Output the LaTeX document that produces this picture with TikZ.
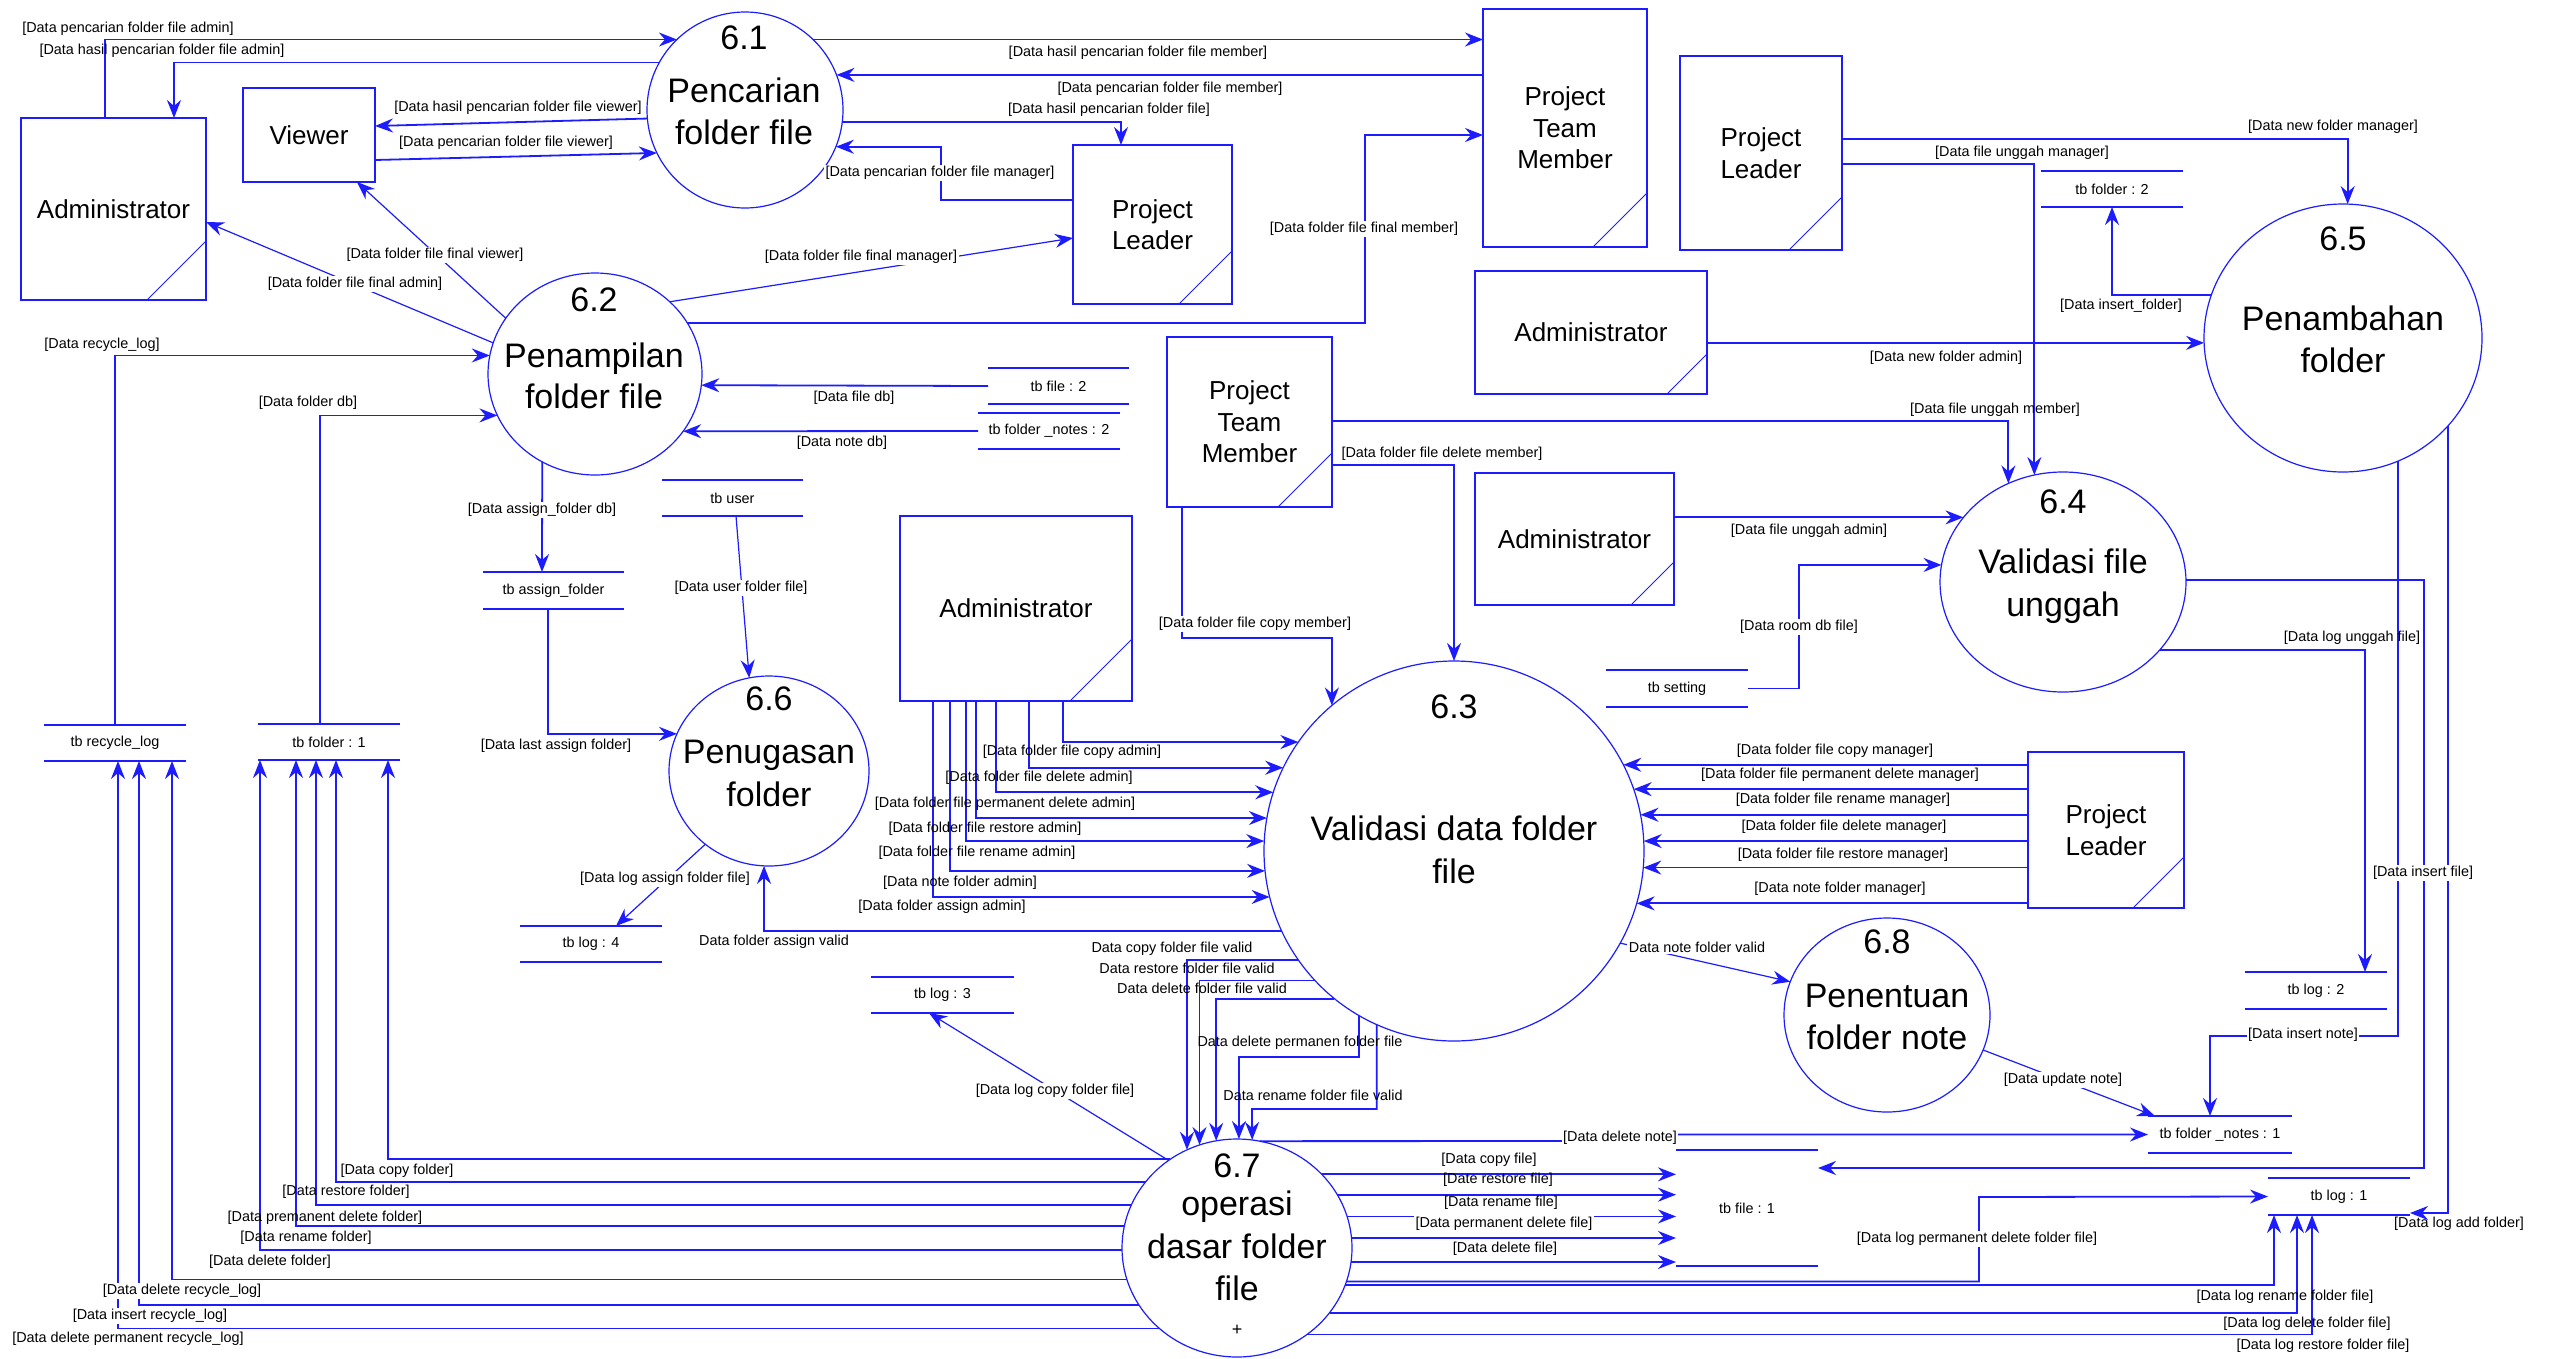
\documentclass[tikz,border=0pt]{standalone}
\usepackage{fontspec}
\setmainfont{Liberation Sans}
\usetikzlibrary{arrows.meta,shapes.geometric}
\definecolor{dfdblue}{RGB}{28,28,255}

\tikzset{
  flow/.style={draw=dfdblue, line width=1.8pt, ->},
  slant/.style={draw=dfdblue, line width=1.2pt, ->},
  proc/.style={ellipse, draw=dfdblue, line width=1.2pt, inner sep=0pt, outer sep=0pt},
  ptxt/.style={font=\fontsize{34}{40}\selectfont, anchor=base, inner sep=0pt},
  ent/.style={rectangle, draw=dfdblue, line width=1.8pt, inner sep=0pt, outer sep=0pt,
              align=center, font=\fontsize{26}{31.5}\selectfont},
  corner/.style={draw=dfdblue, line width=1pt},
  store/.style={inner sep=0pt, outer sep=0pt, font=\fontsize{14.4}{17}\selectfont},
  storeline/.style={draw=dfdblue, line width=1.8pt},
  lbl/.style={font=\fontsize{14.4}{17}\selectfont, inner sep=1.5pt},
  lblw/.style={lbl, fill=white},
}

% external entity with folded corner mark
\newcommand\dentity[6]{%
  \node[ent, minimum width=#3, minimum height=#4] (#1) at #2 {#6};
  \draw[corner] ([xshift=-#5]#1.south east) -- ([yshift=#5]#1.south east);
}
% data store: two horizontal rules around its name
\newcommand\dstore[5]{%
  \node[store, minimum width=#3, minimum height=#4] (#1) at #2 {#5};
  \draw[storeline] (#1.north west) -- (#1.north east) (#1.south west) -- (#1.south east);
}

\begin{document}
\begin{tikzpicture}[x=1pt, y=-1pt, >={Stealth[length=18pt,width=14pt,inset=6pt]}]
\fill[white] (0,0) rectangle (2552,1358);
\useasboundingbox (0,0) rectangle (2552,1358);

% ---------------- processes ----------------
\node[proc, minimum width=196pt, minimum height=196pt] (p61) at (745,110) {};
\node[ptxt] (p61n) at (744,49) {6.1};
\node[ptxt] (p61a) at (744,102) {Pencarian};
\node[ptxt] (p61b) at (744,144) {folder file};

\node[proc, minimum width=214pt, minimum height=202pt] (p62) at (595,374) {};
\node[ptxt] (p62n) at (594,311) {6.2};
\node[ptxt] (p62a) at (594,367) {Penampilan};
\node[ptxt] (p62b) at (594,408) {folder file};

\node[proc, minimum width=380pt, minimum height=380pt] (p63) at (1454,851) {};
\node[ptxt] (p63n) at (1454,718) {6.3};
\node[ptxt] (p63a) at (1454,840) {Validasi data folder};
\node[ptxt] (p63b) at (1454,883) {file};

\node[proc, minimum width=246pt, minimum height=220pt] (p64) at (2063,582) {};
\node[ptxt] (p64n) at (2063,513) {6.4};
\node[ptxt] (p64a) at (2063,573) {Validasi file};
\node[ptxt] (p64b) at (2063,616) {unggah};

\node[proc, minimum width=278pt, minimum height=268pt] (p65) at (2343,338) {};
\node[ptxt] (p65n) at (2343,250) {6.5};
\node[ptxt] (p65a) at (2343,330) {Penambahan};
\node[ptxt] (p65b) at (2343,372) {folder};

\node[proc, minimum width=200pt, minimum height=190pt] (p66) at (769,771) {};
\node[ptxt] (p66n) at (769,710) {6.6};
\node[ptxt] (p66a) at (769,763) {Penugasan};
\node[ptxt] (p66b) at (769,806) {folder};

\node[proc, minimum width=230pt, minimum height=218pt] (p67) at (1237,1248) {};
\node[ptxt] (p67n) at (1237,1177) {6.7};
\node[ptxt] (p67a) at (1237,1215) {operasi};
\node[ptxt] (p67b) at (1237,1258) {dasar folder};
\node[ptxt] (p67c) at (1237,1300) {file};
\node[font=\fontsize{18}{20}\selectfont, inner sep=0pt] (p67p) at (1237,1330) {+};

\node[proc, minimum width=206pt, minimum height=194pt] (p68) at (1887,1015) {};
\node[ptxt] (p68n) at (1887,953) {6.8};
\node[ptxt] (p68a) at (1887,1007) {Penentuan};
\node[ptxt] (p68b) at (1887,1049) {folder note};

% ---------------- external entities ----------------
\dentity{adm1}{(113.5,209)}{185pt}{182pt}{59pt}{Administrator}
\node[ent, minimum width=132pt, minimum height=94pt] (viewer) at (309,135) {Viewer};
\dentity{pl1}{(1152.5,224.5)}{159pt}{159pt}{53pt}{Project\\Leader}
\dentity{ptm1}{(1565,128)}{164pt}{238pt}{54pt}{Project\\Team\\Member}
\dentity{pl2}{(1761,153)}{162pt}{194pt}{53pt}{Project\\Leader}
\dentity{adm2}{(1591,332.5)}{232pt}{123pt}{40pt}{Administrator}
\dentity{ptm2}{(1249.5,422)}{165pt}{170pt}{54pt}{Project\\Team\\Member}
\dentity{adm3}{(1574.5,539)}{199pt}{132pt}{43pt}{Administrator}
\dentity{adm4}{(1016,608.5)}{232pt}{185pt}{62pt}{Administrator}
\dentity{pl3}{(2106,830)}{156pt}{156pt}{51pt}{Project\\Leader}

% ---------------- data stores ----------------
\dstore{tbf2}{(1058.5,386)}{141pt}{36pt}{tb file : 2}
\dstore{tbfn2}{(1049,431)}{142pt}{36pt}{tb folder \_notes : 2}
\dstore{tbuser}{(732.5,498)}{141pt}{36pt}{tb user}
\dstore{tbassign}{(553.5,590.5)}{141pt}{37pt}{tb assign\_folder}
\dstore{tbrec}{(115,743)}{142pt}{36pt}{tb recycle\_log}
\dstore{tbfold1}{(329,742)}{142pt}{36pt}{tb folder : 1}
\dstore{tblog4}{(591,944)}{142pt}{36pt}{tb log : 4}
\dstore{tblog3}{(942.5,995)}{143pt}{36pt}{tb log : 3}
\dstore{tbset}{(1677,688.5)}{142pt}{37pt}{tb setting}
\dstore{tbfold2}{(2112,189)}{142pt}{36pt}{tb folder : 2}
\dstore{tblog2}{(2316,990.5)}{142pt}{37pt}{tb log : 2}
\dstore{tbfn1}{(2220,1134.5)}{144pt}{37pt}{tb folder \_notes : 1}
\dstore{tbfile1}{(1747,1208)}{142pt}{116pt}{tb file : 1}
\dstore{tblog1}{(2339,1196.5)}{142pt}{37pt}{tb log : 1}

% ---------------- flows around 6.1 ----------------
\draw[flow] (adm1.north -| 105,0) |- (p61.134);
\draw[flow] (p61.151) -| (adm1.north -| 174,0);
\draw[flow] (p61.185) -- (viewer.east |- 0,126);
\draw[flow] (viewer.east |- 0,160) -- (p61.206);
\draw[flow] (p61.46) -- (ptm1.west |- p61.46);
\draw[flow] (ptm1.west |- p61.21) -- (p61.21);
\draw[flow] (p61.353) -| (pl1.north -| 1121,0);
\draw[flow] (pl1.west |- 0,200) -| (p61.338 -| 941,0) -- (p61.338);

% ---------------- flows around 6.2 ----------------
\draw[slant] (p62.148) -- (viewer.south -| 357,0);
\draw[slant] (p62.163) -- (adm1.east |- 0,222);
\draw[slant] (p62.44) -- (pl1.west |- 0,238);
\draw[flow] (p62.29) -| (1365,135) -- (ptm1.west |- 0,135);
\draw[flow] (tbf2.west) -- (p62.354);
\draw[flow] (tbfn2.west) -- (p62.327);
\draw[flow] (tbrec.north) |- (p62.170);
\draw[flow] (tbfold1.north -| 320,0) |- (p62.203);
\draw[flow] (p62.239) -- (tbassign.north -| 542,0);

% ---------------- flows around 6.6 ----------------
\draw[flow] (tbassign.south -| 548,0) |- (p66.158);
\draw[slant] (tbuser.south -| 736,0) -- (p66.102);
\draw[slant] (p66.229) -- (tblog4.north -| 616,0);
\draw[flow] (p63.205) -| (p66.267);

% ---------------- Administrator -> 6.3 ----------------
\draw[flow] (adm4.south -| 1063,0) |- (p63.145);
\draw[flow] (adm4.south -| 1029,0) |- (p63.154);
\draw[flow] (adm4.south -| 996,0) |- (p63.162);
\draw[flow] (adm4.south -| 976,0) |- (p63.170);
\draw[flow] (adm4.south -| 966,0) |- (p63.177);
\draw[flow] (adm4.south -| 950,0) |- (p63.186);
\draw[flow] (adm4.south -| 933,0) |- (p63.194);

% ---------------- Project Team Member -> 6.3 / 6.4 ----------------
\draw[flow] (ptm2.south -| 1182,0) -- (1182,638) -| (p63.130);
\draw[flow] (ptm2.east |- 0,465) -| (p63.90);
\draw[flow] (ptm2.east |- 0,421) -| (p64.119);

% ---------------- into 6.4 / 6.5 ----------------
\draw[flow] (pl2.east |- 0,164) -| (p64.105);
\draw[flow] (pl2.east |- 0,139) -| (p65.88);
\draw[flow] (adm2.east |- p65.182) -- (p65.182);
\draw[flow] (adm3.east |- p64.147) -- (p64.147);
\draw[flow] (tbset.east) -- ++(51,0) |- (p64.172);

% ---------------- out of 6.5 ----------------
\draw[flow] (p65.162) -| (tbfold2.south);
\draw[flow] (p65.294) |- (2210,1036) -- (tbfn1.north -| 2210,0);
\draw[flow] (p65.320) |- (tblog1.east |- 0,1213);

% ---------------- out of 6.4 ----------------
\draw[flow] (p64.325) -| (tblog2.north -| 2365,0);
\draw[flow] (p64.1) -| (2424,1168) -- (tbfile1.east |- 0,1168);

% ---------------- Project Leader -> 6.3 ----------------
\foreach \a in {27,19,11,3,355,344} \draw[flow] (pl3.west |- p63.\a) -- (p63.\a);

% ---------------- 6.3 -> 6.8 -> tb folder_notes ----------------
\draw[slant] (p63.331) -- (p68.161);
\draw[slant] (p68.340) -- (tbfn1.north -| 2155,0);

% ---------------- 6.3 -> 6.7 ----------------
\draw[flow] (p63.215) -| (p67.117);
\draw[flow] (p63.223) -| (p67.110);
\draw[flow] (p63.231) -| (p67.101);
\draw[flow] (p63.240) |- (1239,1057) -- (p67.89);
\draw[flow] (p63.246) |- (1252,1109) -- (p67.82);

% ---------------- out of 6.7 ----------------
\draw[slant] (p67.128) -- (tblog3.south -| 929,0);
\draw[flow] (p67.78) -- (1620,1141) |- (tbfn1.west);
\draw[flow] (p67.127) -| (tbfold1.south -| 388,0);
\draw[flow] (p67.144) -| (tbfold1.south -| 336,0);
\draw[flow] (p67.158) -| (tbfold1.south -| 316,0);
\draw[flow] (p67.169) -| (tbfold1.south -| 296,0);
\draw[flow] (p67.181) -| (tbfold1.south -| 260,0);
\draw[flow] (p67.196) -| (tbrec.south -| 172,0);
\draw[flow] (p67.210) -| (tbrec.south -| 139,0);
\draw[flow] (p67.226) -| (tbrec.south -| 118,0);
\foreach \a in {41,28,16,5,353} \draw[flow] (p67.\a) -- (tbfile1.west |- p67.\a);
\draw[flow] (p67.343) -| (1979,1197) -- (tblog1.west);
\draw[flow] (p67.341) -| (tblog1.south -| 2274,0);
\draw[flow] (p67.325) -| (tblog1.south -| 2297,0);
\draw[flow] (p67.309) -| (tblog1.south -| 2312,0);

% ---------------- flow labels ----------------
\node[lbl] (l01) at (128,29) {[Data pencarian folder file admin]};
\node[lbl] (l02) at (162,51) {[Data hasil pencarian folder file admin]};
\node[lbl] (l03) at (518,108) {[Data hasil pencarian folder file viewer]};
\node[lbl] (l04) at (506,143) {[Data pencarian folder file viewer]};
\node[lblw] (l05) at (435,255) {[Data folder file final viewer]};
\node[lblw] (l06) at (355,284) {[Data folder file final admin]};
\node[lbl] (l07) at (1138,53) {[Data hasil pencarian folder file member]};
\node[lbl] (l08) at (1170,89) {[Data pencarian folder file member]};
\node[lbl] (l09) at (1109,110) {[Data hasil pencarian folder file]};
\node[lblw] (l10) at (940,173) {[Data pencarian folder file manager]};
\node[lblw] (l11) at (861,257) {[Data folder file final manager]};
\node[lblw] (l12) at (1364,229) {[Data folder file final member]};
\node[lbl] (l13) at (854,398) {[Data file db]};
\node[lbl] (l14) at (842,443) {[Data note db]};
\node[lbl] (l15) at (102,345) {[Data recycle\_log]};
\node[lbl] (l16) at (308,403) {[Data folder db]};
\node[lblw] (l17) at (542,510) {[Data assign\_folder db]};
\node[lbl] (l18) at (556,746) {[Data last assign folder]};
\node[lblw] (l19) at (741,588) {[Data user folder file]};
\node[lblw] (l20) at (665,879) {[Data log assign folder file]};
\node[lbl] (l21) at (774,942) {Data folder assign valid};
\node[lbl] (l22) at (1072,752) {[Data folder file copy admin]};
\node[lbl] (l23) at (1039,778) {[Data folder file delete admin]};
\node[lbl] (l24) at (1005,804) {[Data folder file permanent delete admin]};
\node[lbl] (l25) at (985,829) {[Data folder file restore admin]};
\node[lbl] (l26) at (977,853) {[Data folder file rename admin]};
\node[lbl] (l27) at (960,883) {[Data note folder admin]};
\node[lbl] (l28) at (942,907) {[Data folder assign admin]};
\node[lblw] (l29) at (1255,624) {[Data folder file copy member]};
\node[lbl] (l30) at (1442,454) {[Data folder file delete member]};
\node[lbl] (l31) at (1995,410) {[Data file unggah member]};
\node[lbl] (l32) at (1946,358) {[Data new folder admin]};
\node[lbl] (l33) at (2022,153) {[Data file unggah manager]};
\node[lbl] (l34) at (2333,127) {[Data new folder manager]};
\node[lbl] (l35) at (2121,306) {[Data insert\_folder]};
\node[lbl] (l36) at (2352,638) {[Data log unggah file]};
\node[lblw] (l37) at (2423,873) {[Data insert file]};
\node[lblw] (l38) at (2303,1035) {[Data insert note]};
\node[lbl] (l39) at (2459,1224) {[Data log add folder]};
\node[lblw] (l40) at (1799,627) {[Data room db file]};
\node[lbl] (l41) at (1809,531) {[Data file unggah admin]};
\node[lbl] (l42) at (1835,751) {[Data folder file copy manager]};
\node[lbl] (l43) at (1840,775) {[Data folder file permanent delete manager]};
\node[lbl] (l44) at (1843,800) {[Data folder file rename manager]};
\node[lbl] (l45) at (1844,827) {[Data folder file delete manager]};
\node[lbl] (l46) at (1843,855) {[Data folder file restore manager]};
\node[lbl] (l47) at (1840,889) {[Data note folder manager]};
\node[lblw] (l48) at (1697,947) {Data note folder valid};
\node[lblw] (l49) at (2063,1080) {[Data update note]};
\node[lblw] (l50) at (1620,1138) {[Data delete note]};
\node[lbl] (l51) at (1489,1160) {[Data copy file]};
\node[lbl] (l52) at (1498,1180) {[Date restore file]};
\node[lbl] (l53) at (1501,1203) {[Data rename file]};
\node[lblw] (l54) at (1504,1224) {[Data permanent delete file]};
\node[lbl] (l55) at (1505,1249) {[Data delete file]};
\node[lblw] (l56) at (1977,1239) {[Data log permanent delete folder file]};
\node[lbl] (l57) at (2285,1297) {[Data log rename folder file]};
\node[lbl] (l58) at (2307,1324) {[Data log delete folder file]};
\node[lbl] (l59) at (2323,1346) {[Data log restore folder file]};
\node[lblw] (l60) at (1055,1091) {[Data log copy folder file]};
\node[lbl] (l61) at (1172,949) {Data copy folder file valid};
\node[lbl] (l62) at (1187,968) {Data restore folder file valid};
\node[lbl] (l63) at (1202,988) {Data delete folder file valid};
\node[lbl] (l64) at (1300,1043) {Data delete permanen folder file};
\node[lbl] (l65) at (1313,1095) {Data rename folder file valid};
\node[lbl] (l66) at (397,1171) {[Data copy folder]};
\node[lbl] (l67) at (346,1192) {[Data restore folder]};
\node[lbl] (l68) at (325,1218) {[Data premanent delete folder]};
\node[lbl] (l69) at (306,1238) {[Data rename folder]};
\node[lbl] (l70) at (270,1262) {[Data delete folder]};
\node[lblw] (l71) at (182,1291) {[Data delete recycle\_log]};
\node[lblw] (l72) at (150,1316) {[Data insert recycle\_log]};
\node[lbl] (l73) at (128,1339) {[Data delete permanent recycle\_log]};
\end{tikzpicture}
\end{document}
